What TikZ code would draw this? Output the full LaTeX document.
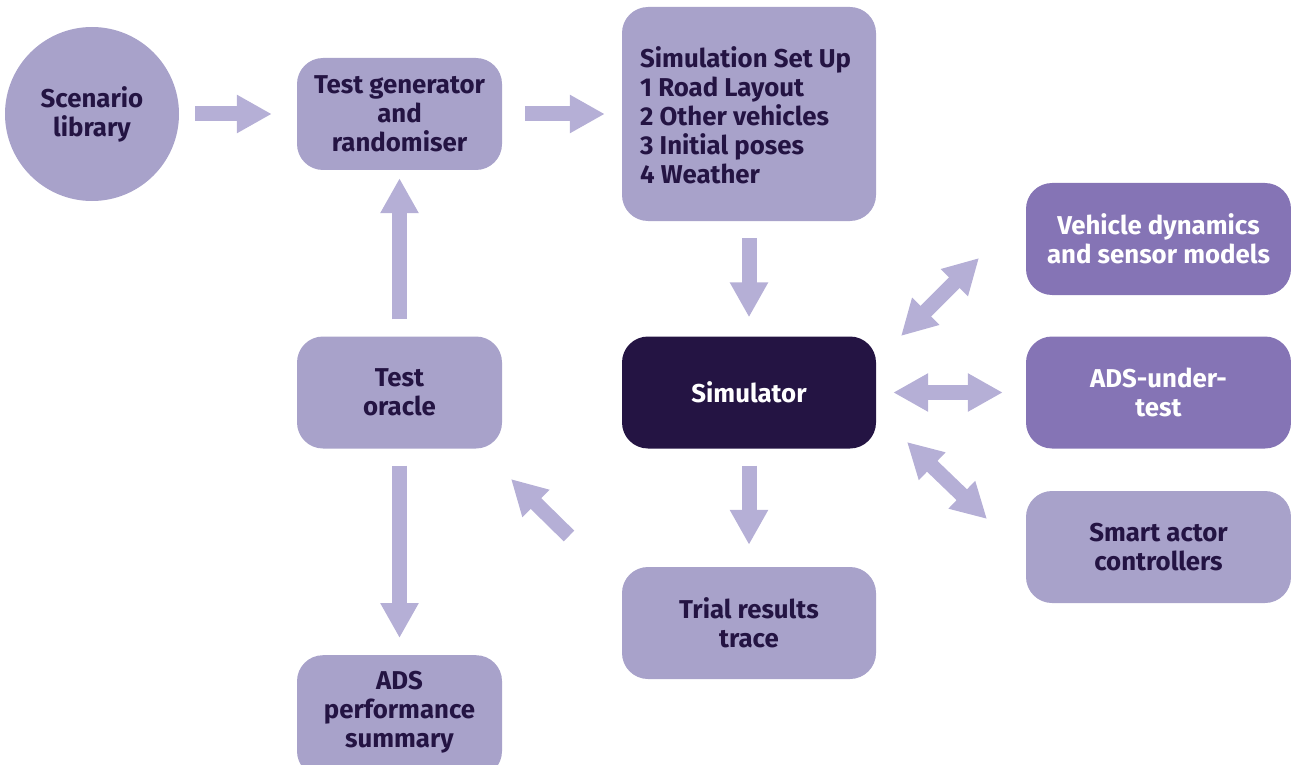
\documentclass[tikz,border=0pt]{standalone}
\usepackage{fontspec}
\setmainfont{Fira Sans}
\usetikzlibrary{arrows.meta}
\definecolor{boxlight}{HTML}{A8A2CA}
\definecolor{boxmid}{HTML}{8574B5}
\definecolor{boxdark}{HTML}{241443}
\definecolor{arrowfill}{HTML}{B5AFD6}
\definecolor{textdark}{HTML}{241443}
\tikzset{
  lbl/.style={font=\fontsize{25.8}{29}\selectfont\bfseries, align=center},
  card/.style={lbl, rounded corners=26pt, inner sep=0pt, fill=boxlight, text=textdark},
  midcard/.style={card, fill=boxmid, text=white},
  darkcard/.style={card, fill=boxdark, text=white},
  blockarrow/.style={draw=arrowfill, line width=15pt, line cap=butt,
    -{Triangle[length=35pt,width=36pt]}},
  twoway/.style={draw=arrowfill, line width=15pt, line cap=butt,
    {Triangle[length=35pt,width=36pt]}-{Triangle[length=35pt,width=36pt]}}
}
\begin{document}
\begin{tikzpicture}[x=1pt,y=-1pt]
\useasboundingbox (0,0) rectangle (1291,765);
\clip (0,0) rectangle (1291,765);

% circle for the scenario library
\node[lbl, circle, fill=boxlight, text=textdark, minimum size=174pt, inner sep=0pt]
  (scen) at (92,114) {Scenario\\library};

% rounded boxes
\node[card, minimum width=205pt, minimum height=112pt] (gen) at (399.5,114)
  {Test generator\\and\\randomiser};
\node[card, minimum width=254pt, minimum height=214pt] (setup) at (749,114) {};
\node[lbl, anchor=west, align=left, text=textdark, inner sep=0pt] (setuptext) at (640,115)
  {Simulation Set Up\\1 Road Layout\\2 Other vehicles\\3 Initial poses\\4 Weather};
\node[midcard, minimum width=265pt, minimum height=112pt] (veh) at (1158.5,239)
  {Vehicle dynamics\\and sensor models};
\node[midcard, minimum width=265pt, minimum height=112pt] (ads) at (1158.5,392.5)
  {ADS-under-\\test};
\node[card, minimum width=265pt, minimum height=112pt] (smart) at (1158.5,547)
  {Smart actor\\controllers};
\node[card, minimum width=205pt, minimum height=112pt] (oracle) at (399.5,392.5)
  {Test\\oracle};
\node[darkcard, minimum width=254pt, minimum height=112pt] (sim) at (749,392.5)
  {Simulator};
\node[card, minimum width=254pt, minimum height=112pt] (trial) at (749,623)
  {Trial results\\trace};
\node[card, minimum width=205pt, minimum height=122pt, anchor=north] (perf) at (399.5,655) {};
\node[lbl, text=textdark] (perftext) at (399.5,712.5) {ADS\\performance\\summary};

% one-way flow arrows
\draw[blockarrow] ([xshift=16pt]scen.east) -- ([xshift=-25pt]gen.west);
\draw[blockarrow] ([xshift=23pt]gen.east) -- ([xshift=-17pt]setup.west);
\draw[blockarrow] ([yshift=-17pt]setup.south) -- ([yshift=19pt]sim.north);
\draw[blockarrow] ([yshift=17pt]oracle.north) -- ([yshift=-8pt]gen.south);
\draw[blockarrow] ([yshift=-17pt]oracle.south) -- ([yshift=17pt]perf.north);
\draw[blockarrow] ([yshift=-17pt]sim.south) -- ([yshift=22pt]trial.north);
\coordinate (fbtail) at (569,536);
\coordinate (fbtip) at (511,479);
\draw[blockarrow] (fbtail) -- (fbtip);

% two-way links between the simulator and its models
\coordinate (vA) at (901,336);
\coordinate (vB) at (979,258);
\draw[twoway] (vA) -- (vB);
\draw[twoway] ([xshift=17pt]sim.east) -- ([xshift=-23pt]ads.west);
\coordinate (sA) at (907,442);
\coordinate (sB) at (987,519);
\draw[twoway] (sA) -- (sB);
\end{tikzpicture}
\end{document}
